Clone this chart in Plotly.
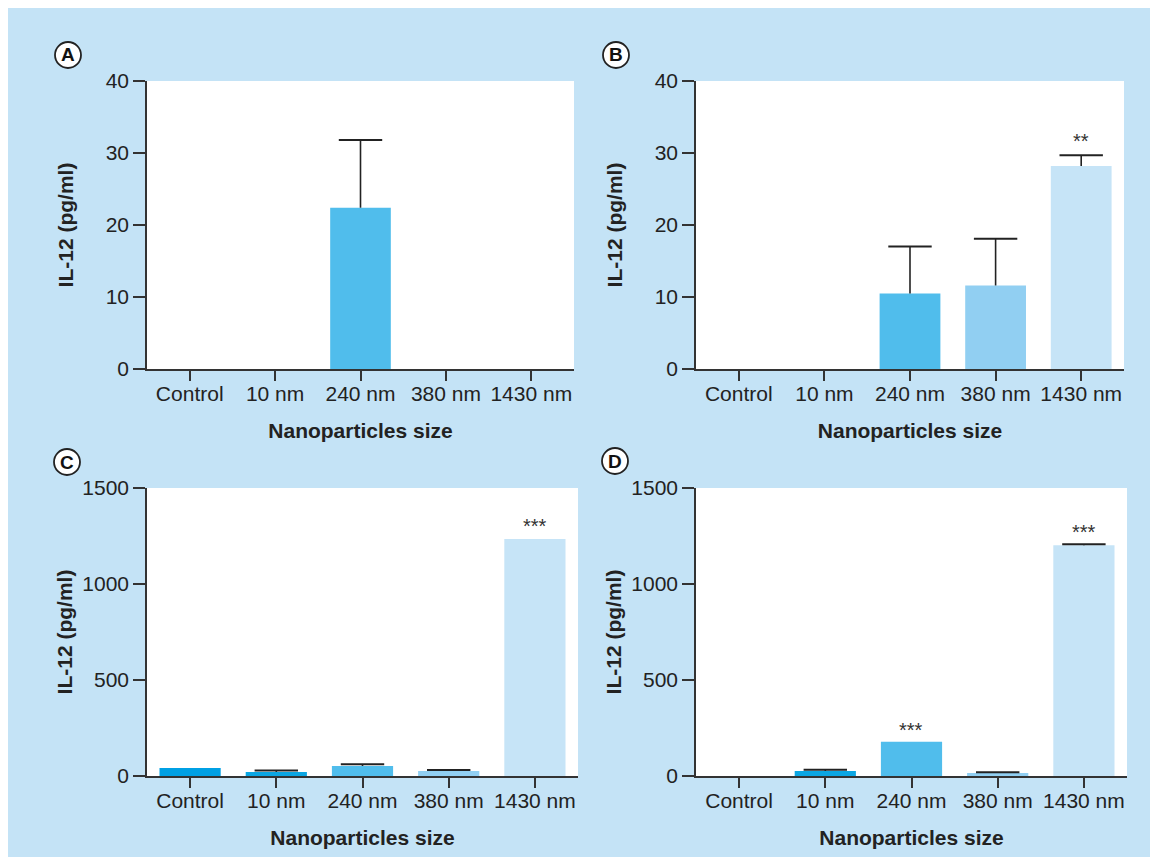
import plotly.graph_objects as go

# page body has an 8px margin; figure sized to fit inside the 1158x865 window
OFF = 8
W, H = 1158 - 2 * OFF, 865 - 2 * OFF

categories = ["Control", "10 nm", "240 nm", "380 nm", "1430 nm"]
bar_colors = ["#00a0e4", "#0ba6e3", "#50bdec", "#91cff2", "#c6e4f7"]

# Panel A
a_values = [0, 0, 22.4, 0, 0]
a_err_up = [0, 0, 9.4, 0, 0]
a_sig = ["", "", "", "", ""]
# Panel B
b_values = [0, 0, 10.5, 11.6, 28.2]
b_err_up = [0, 0, 6.5, 6.5, 1.5]
b_sig = ["", "", "", "", "**"]
# Panel C
c_values = [42, 21, 52, 26, 1234]
c_err_up = [0, 8, 9, 5, 0]
c_sig = ["", "", "", "", "***"]
# Panel D
d_values = [0, 26, 178, 16, 1202]
d_err_up = [0, 7, 0, 3, 5]
d_sig = ["", "", "***", "", "***"]

y_ticks_top = [0, 10, 20, 30, 40]
y_ticks_bottom = [0, 500, 1000, 1500]

# screen-pixel layout boxes (converted to paper fractions below)
panels = [
    dict(label="A", vals=a_values, err=a_err_up, sig=a_sig, x=(147, 574), y=(81, 369),
         rng=[0, 40], ticks=y_ticks_top, circ=(68, 55), sig_off=2.0, ystand=26),
    dict(label="B", vals=b_values, err=b_err_up, sig=b_sig, x=(696, 1124), y=(81, 369),
         rng=[0, 40], ticks=y_ticks_top, circ=(616, 55), sig_off=2.0, ystand=26),
    dict(label="C", vals=c_values, err=c_err_up, sig=c_sig, x=(147, 578), y=(488, 776),
         rng=[0, 1500], ticks=y_ticks_bottom, circ=(67, 462), sig_off=68, ystand=4),
    dict(label="D", vals=d_values, err=d_err_up, sig=d_sig, x=(696, 1127), y=(488, 776),
         rng=[0, 1500], ticks=y_ticks_bottom, circ=(615, 461), sig_off=64, ystand=4),
]


def px_x(sx):
    return (sx - OFF) / W


def px_y(sy):
    return 1 - (sy - OFF) / H


FONT = "Liberation Sans, Arial, sans-serif"
AX = "#333333"
TXT = "#222222"
FS = 21

fig = go.Figure()
layout = dict(
    width=W, height=H,
    paper_bgcolor="#c4e3f6",
    plot_bgcolor="white",
    margin=dict(l=0, r=0, t=0, b=0, pad=0),
    showlegend=False,
    font=dict(family=FONT, size=FS, color=TXT),
    bargap=0.29,
)
annotations = []
shapes = []

for i, p in enumerate(panels):
    n = i + 1
    xa = "x" if n == 1 else f"x{n}"
    ya = "y" if n == 1 else f"y{n}"
    xs = list(range(len(categories)))
    fig.add_trace(go.Bar(
        x=xs, y=p["vals"],
        marker=dict(color=bar_colors, line=dict(width=0)),
        xaxis=xa, yaxis=ya, hoverinfo="skip",
    ))
    # one-sided (upper) error bars: stem + cap
    sx, sy, cx_, cy_ = [], [], [], []
    for k, (v, e) in enumerate(zip(p["vals"], p["err"])):
        if e > 0:
            sx += [k, k, None]
            sy += [v, v + e, None]
            cx_.append(k)
            cy_.append(v + e)
    if sx:
        fig.add_trace(go.Scatter(
            x=sx, y=sy, mode="lines", line=dict(color="#222222", width=1.6),
            xaxis=xa, yaxis=ya, hoverinfo="skip", cliponaxis=False,
        ))
        fig.add_trace(go.Scatter(
            x=cx_, y=cy_, mode="markers",
            marker=dict(symbol="line-ew", size=31, line=dict(color="#222222", width=2)),
            xaxis=xa, yaxis=ya, hoverinfo="skip", cliponaxis=False,
        ))
    x0, x1 = p["x"]
    y0, y1 = p["y"]
    xkey = "xaxis" if n == 1 else f"xaxis{n}"
    ykey = "yaxis" if n == 1 else f"yaxis{n}"
    layout[xkey] = dict(
        domain=[px_x(x0), px_x(x1)], anchor=ya, range=[-0.5, 4.5],
        tickmode="array", tickvals=xs, ticktext=categories,
        ticks="outside", ticklen=10, tickwidth=1.6, tickcolor=AX,
        ticklabelstandoff=-5,
        showline=True, linecolor=AX, linewidth=1.6, showgrid=False, zeroline=False,
        tickfont=dict(size=FS, color=TXT), automargin=False,
        title=dict(text="<b>Nanoparticles size</b>", font=dict(size=FS, color=TXT), standoff=19),
        fixedrange=True,
    )
    layout[ykey] = dict(
        domain=[px_y(y1), px_y(y0)], anchor=xa, range=p["rng"],
        tickmode="array", tickvals=p["ticks"],
        ticks="outside", ticklen=12, tickwidth=1.6, tickcolor=AX,
        showline=True, linecolor=AX, linewidth=1.6, showgrid=False, zeroline=False,
        tickfont=dict(size=FS, color=TXT), automargin=False,
        title=dict(text="<b>IL-12 (pg/ml)</b>", font=dict(size=FS, color=TXT), standoff=p["ystand"]),
        fixedrange=True,
    )
    # significance markers
    for k, s in enumerate(p["sig"]):
        if s:
            annotations.append(dict(
                x=k, y=p["vals"][k] + p["err"][k] + p["sig_off"], xref=xa, yref=ya,
                text=s, showarrow=False, font=dict(size=20, color="#333333"),
                yanchor="middle",
            ))
    # panel label circles
    cx, cy = p["circ"]
    r = 13
    shapes.append(dict(
        type="circle", xref="paper", yref="paper",
        x0=px_x(cx - r), x1=px_x(cx + r), y0=px_y(cy + r), y1=px_y(cy - r),
        fillcolor="white", line=dict(color="#222222", width=1.8),
    ))
    annotations.append(dict(
        x=px_x(cx), y=px_y(cy), xref="paper", yref="paper", text=f"<b>{p['label']}</b>",
        showarrow=False, font=dict(size=19, color="#111111"),
        xanchor="center", yanchor="middle",
    ))

layout["annotations"] = annotations
layout["shapes"] = shapes
fig.update_layout(**layout)

fig.write_html("out.html")
